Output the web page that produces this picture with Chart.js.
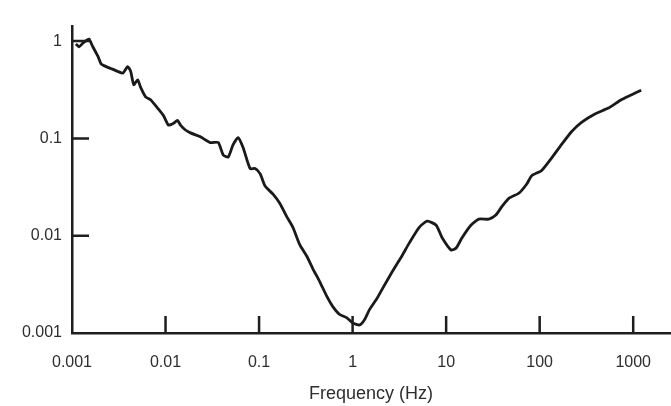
<!DOCTYPE html>
<html><head><meta charset="utf-8">
<script src="https://cdn.jsdelivr.net/npm/chart.js@4"></script>
<style>html,body{margin:0;padding:0;background:#fff;overflow:hidden}#wrap{width:671px;height:406px;position:relative}</style>
</head><body><div id="wrap"><canvas id="c" width="671" height="406"></canvas></div>
<script>
// Frequency (Hz) and normalised response
const freq = [0.00110,0.00119,0.00131,0.00144,0.00152,0.00167,0.00189,0.00204,0.00219,0.0026,
  0.00308,0.00349,0.00394,0.00424,0.00457,0.00504,0.00542,0.00612,0.00692,0.00822,
  0.00953,0.01076,0.01216,0.01343,0.01445,0.01634,0.01846,0.02356,0.0301,0.0366,
  0.0414,0.0468,0.0528,0.0598,0.0676,0.0802,0.0906,0.1025,0.116,0.141,
  0.167,0.199,0.230,0.273,0.324,0.375,0.446,0.529,0.612,0.727,
  0.863,1.0,1.19,1.34,1.52,1.80,2.08,2.66,3.40,4.04,
  5.16,6.28,7.83,9.06,11.3,12.8,14.8,18.4,22.4,28.6,
  34.0,39.4,46.8,59.8,72.8,82.2,105,134,171,219,
  280,394,542,745,952,1217];
const response = [0.935,0.875,0.956,1.02,1.05,0.875,0.70,0.585,0.56,0.523,
  0.489,0.468,0.547,0.489,0.357,0.40,0.334,0.267,0.25,0.205,
  0.171,0.137,0.143,0.153,0.137,0.122,0.114,0.104,0.0906,0.0906,
  0.0676,0.0644,0.0863,0.102,0.0802,0.049,0.049,0.0435,0.0324,0.0267,
  0.0214,0.0155,0.0122,0.00804,0.00615,0.0046,0.00336,0.00239,0.00188,0.00155,
  0.00144,0.00127,0.00121,0.00137,0.00175,0.00222,0.00284,0.00428,0.0063,0.00844,
  0.0122,0.0141,0.0128,0.00953,0.00713,0.00748,0.00953,0.0128,0.0148,0.0148,
  0.0163,0.0199,0.0242,0.0273,0.034,0.0414,0.0468,0.0628,0.0863,0.117,
  0.146,0.179,0.205,0.25,0.28,0.313];
const xTicks = [0.001,0.01,0.1,1,10,100,1000];
const xTickLabels = ['0.001','0.01','0.1','1','10','100','1000'];
const yTicks = [0.001,0.01,0.1,1];
const yTickLabels = ['0.001','0.01','0.1','1'];
const xTitle = 'Frequency (Hz)';

const FONT = 'Arial, "Liberation Sans", Helvetica, sans-serif';
const AXIS = '#1e1e1e';
const TEXT = '#2e2e2e';

const innerTicks = {
  id: 'innerTicks',
  afterDraw(chart) {
    const {ctx, chartArea: a, scales: {x, y}} = chart;
    ctx.save();
    ctx.strokeStyle = AXIS;
    ctx.lineWidth = 2.5;
    ctx.beginPath();
    yTicks.forEach(v => {
      if (v === yTicks[0]) return;
      const py = y.getPixelForValue(v);
      ctx.moveTo(a.left, py); ctx.lineTo(a.left + 17, py);
    });
    xTicks.forEach(v => {
      if (v === xTicks[0]) return;
      const px = x.getPixelForValue(v);
      ctx.moveTo(px, a.bottom); ctx.lineTo(px, a.bottom - 17);
    });
    ctx.stroke();
    ctx.restore();
  }
};

new Chart(document.getElementById('c'), {
  type: 'line',
  data: {
    datasets: [{
      data: freq.map((f, i) => ({x: f, y: response[i]})),
      borderColor: '#1a1a1a',
      borderWidth: 2.8,
      pointRadius: 0,
      tension: 0.2,
      fill: false
    }]
  },
  options: {
    responsive: false,
    animation: false,
    devicePixelRatio: 1,
    layout: {padding: {top: 26, right: 0, bottom: 0, left: 0}},
    plugins: {legend: {display: false}, tooltip: {enabled: false}},
    scales: {
      x: {
        type: 'logarithmic',
        min: 0.001, max: 2480,
        afterBuildTicks: s => { s.ticks = xTicks.map(v => ({value: v})); },
        afterFit: s => { s.height = 73; },
        grid: {display: false, drawTicks: false},
        border: {display: true, color: AXIS, width: 2.5},
        ticks: {
          autoSkip: false, maxRotation: 0, minRotation: 0,
          padding: 20, color: TEXT,
          font: {family: FONT, size: 16},
          callback: (v) => { const i = xTicks.indexOf(v); return i >= 0 ? xTickLabels[i] : ''; }
        },
        title: {display: true, text: xTitle, color: TEXT, font: {family: FONT, size: 18}, padding: {top: 4, bottom: 1}}
      },
      y: {
        type: 'logarithmic',
        min: 0.001, max: 1.43,
        afterBuildTicks: s => { s.ticks = yTicks.map(v => ({value: v})); },
        afterFit: s => { s.width = 72; },
        grid: {display: false, drawTicks: false},
        border: {display: true, color: AXIS, width: 2.5},
        ticks: {
          autoSkip: false, padding: 10, color: TEXT,
          font: {family: FONT, size: 16},
          callback: (v) => { const i = yTicks.indexOf(v); return i >= 0 ? yTickLabels[i] : ''; }
        }
      }
    }
  },
  plugins: [innerTicks]
});
</script>
</body></html>
